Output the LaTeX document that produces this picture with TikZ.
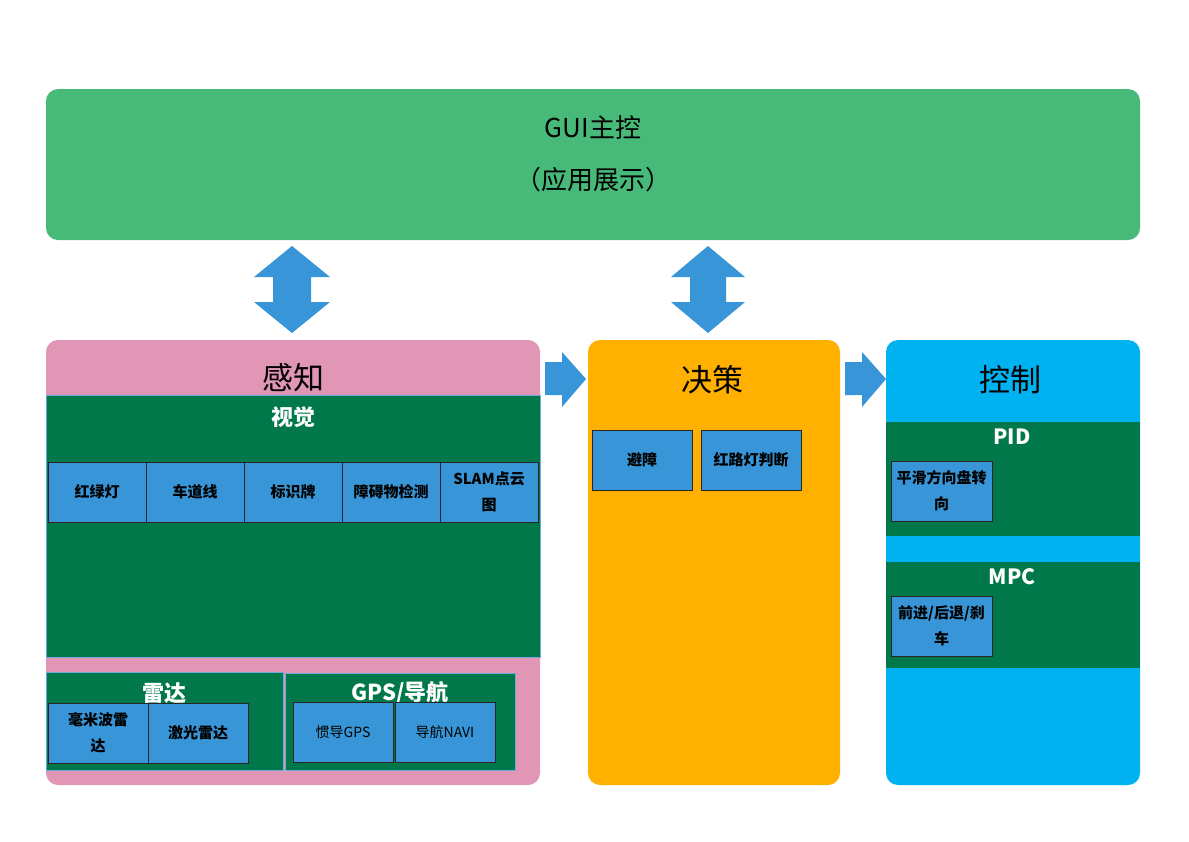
\documentclass[tikz,border=0pt]{standalone}
\usepackage{fontspec}
\setmainfont{Noto Sans CJK SC}

\definecolor{guigreen}{HTML}{47BA7A}
\definecolor{percpink}{HTML}{E096B4}
\definecolor{deciorange}{HTML}{FFB000}
\definecolor{ctrlcyan}{HTML}{00B2F0}
\definecolor{panelgreen}{HTML}{00784A}
\definecolor{panelline}{HTML}{6FA8DC}
\definecolor{boxblue}{HTML}{3896D8}

\begin{document}
\begin{tikzpicture}[
    x=1pt, y=-1pt,
    stage/.style={rectangle, rounded corners=12pt, inner sep=0pt},
    stagetitle/.style={font=\fontsize{31}{36}\selectfont, text=black},
    panel/.style={rectangle, fill=panelgreen, draw=panelline, line width=0.8pt, inner sep=0pt},
    paneltitle/.style={font=\bfseries\fontsize{22}{26}\selectfont, text=white},
    item/.style={rectangle, draw=black!85, fill=boxblue, line width=0.8pt, minimum width=98pt, minimum height=60pt, inner sep=1pt, align=center, font=\bfseries\fontsize{15}{26}\selectfont},
    bigarrow/.style={fill=boxblue}
]
\useasboundingbox (0,0) rectangle (1189,841);

% GUI
\node[stage, fill=guigreen, minimum width=1094pt, minimum height=151pt] (gui) at (593,164.5) {};
\node[align=center, font=\fontsize{26}{52}\selectfont] (guitext) at (593,154) {GUI主控\\（应用展示）};

% GUI <-> stages
\fill[bigarrow] (254,277) -- (292,246) -- (330,277) -- (311,277) -- (311,302) -- (330,302)
    -- (292,333) -- (254,302) -- (273,302) -- (273,277) -- cycle;
\fill[bigarrow] (671,277) -- (708,246) -- (745,277) -- (726,277) -- (726,302) -- (745,302)
    -- (708,333) -- (671,302) -- (690,302) -- (690,277) -- cycle;

% Perception
\node[stage, fill=percpink, minimum width=494pt, minimum height=445pt] (perc) at (293,562.5) {};
\node[stagetitle] (perctitle) at (293,378) {感知};

\node[panel, minimum width=494pt, minimum height=262pt] (vision) at (293,526) {};
\node[paneltitle] (visiontitle) at (293,417) {视觉};
\node[item] (light) at (97,492) {红绿灯};
\node[item] (lane) at (195,492) {车道线};
\node[item] (sign) at (293,492) {标识牌};
\node[item] (obst) at (391,492) {障碍物检测};
\node[item] (slam) at (489,492) {SLAM点云\\图};

\node[panel, minimum width=237pt, minimum height=98pt] (radar) at (164.5,721) {};
\node[paneltitle] (radartitle) at (164.5,693) {雷达};
\node[item, minimum width=100pt] (mmw) at (98,733) {毫米波雷\\达};
\node[item, minimum width=100pt] (lidar) at (198,733) {激光雷达};

\node[panel, minimum width=230pt, minimum height=97pt] (gps) at (400,721.5) {};
\node[paneltitle] (gpstitle) at (400,693) {GPS/导航};
\node[item, minimum width=100pt, font=\fontsize{14}{26}\selectfont] (ins) at (343,732) {惯导GPS};
\node[item, minimum width=100pt, font=\fontsize{14}{26}\selectfont] (navi) at (445,732) {导航NAVI};

% Decision
\node[stage, fill=deciorange, minimum width=252pt, minimum height=445pt] (deci) at (714,562.5) {};
\node[stagetitle] (decititle) at (712,380) {决策};
\node[item, minimum width=100pt] (avoid) at (642,460) {避障};
\node[item, minimum width=100pt] (judge) at (751,460) {红路灯判断};

% Control
\node[stage, fill=ctrlcyan, minimum width=254pt, minimum height=445pt] (ctrl) at (1013,562.5) {};
\node[stagetitle] (ctrltitle) at (1010,380) {控制};

\node[panel, draw=none, minimum width=254pt, minimum height=114pt] (pid) at (1013,479) {};
\node[paneltitle, font=\bfseries\fontsize{21}{26}\selectfont] (pidtitle) at (1012,437) {PID};
\node[item, minimum width=101pt] (steer) at (941.5,491) {平滑方向盘转\\向};

\node[panel, draw=none, minimum width=254pt, minimum height=106pt] (mpc) at (1013,615) {};
\node[paneltitle, font=\bfseries\fontsize{21}{26}\selectfont] (mpctitle) at (1012,577) {MPC};
\node[item, minimum width=101pt] (drive) at (941.5,626) {前进/后退/刹\\车};

% Stage flow
\fill[bigarrow] (545,362) -- (562,362) -- (562,352) -- (586,379) -- (562,407) -- (562,395)
    -- (545,395) -- cycle;
\fill[bigarrow] (845,362) -- (862,362) -- (862,352) -- (886,379) -- (862,407) -- (862,395)
    -- (845,395) -- cycle;

\end{tikzpicture}
\end{document}
